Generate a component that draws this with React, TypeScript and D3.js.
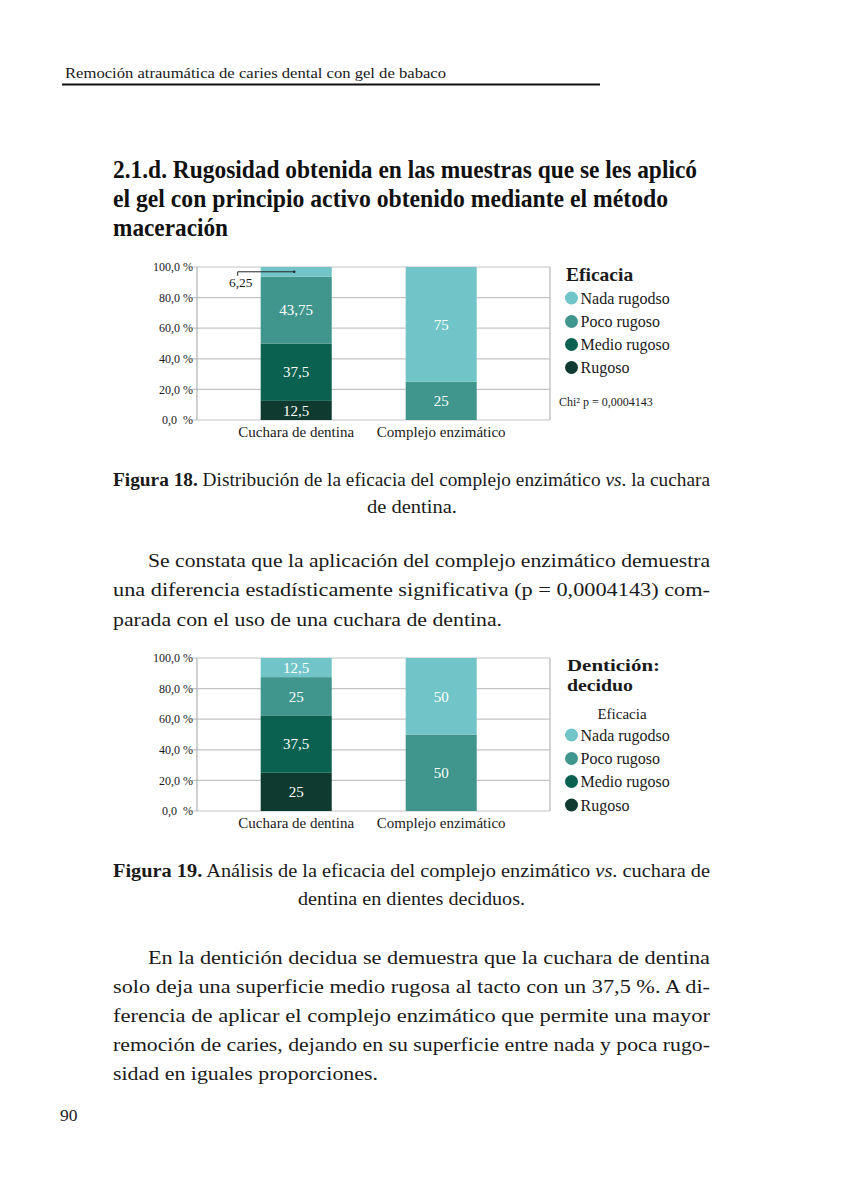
import React from "react";
import * as d3 from "d3";

const categories = ["Cuchara de dentina", "Complejo enzimático"];
const stackKeys = ["Rugoso", "Medio rugoso", "Poco rugoso", "Nada rugodso"];
const legendKeys = ["Nada rugodso", "Poco rugoso", "Medio rugoso", "Rugoso"];
const keyColors = ["#0e3a30", "#0b6150", "#40968c", "#71c5c8"];

const fig18Rugoso = [12.5, 0];
const fig18Medio = [37.5, 0];
const fig18Poco = [43.75, 25];
const fig18Nada = [6.25, 75];

const fig19Rugoso = [25, 0];
const fig19Medio = [37.5, 0];
const fig19Poco = [25, 50];
const fig19Nada = [12.5, 50];

const yTicks = [0, 20, 40, 60, 80, 100];
const yTickLabels = ["0,0  %", "20,0 %", "40,0 %", "60,0 %", "80,0 %", "100,0 %"];

const SERIF = "'Liberation Serif', 'DejaVu Serif', serif";
const TEXT = "#1a1a1a";

function buildRows(r: number[], m: number[], p: number[], n: number[]) {
  return categories.map((c, i) => ({
    cat: c,
    Rugoso: r[i],
    "Medio rugoso": m[i],
    "Poco rugoso": p[i],
    "Nada rugodso": n[i],
  }));
}

const fmt = (v: number) => String(v).replace(".", ",");

function StackedChart({ top, rows, small }: { top: number; rows: any[]; small: number }) {
  const left = 197;
  const right = 550;
  const bottom = top + 153;
  const x = d3
    .scaleBand<string>()
    .domain(categories)
    .range([left, right])
    .paddingInner(0.51)
    .paddingOuter(0.4724)
    .align(0.465);
  const y = d3.scaleLinear().domain([0, 100]).range([bottom, top]);
  const series = d3.stack<any>().keys(stackKeys)(rows);
  const color = d3.scaleOrdinal<string, string>().domain(stackKeys).range(keyColors);

  return (
    <g fontFamily={SERIF}>
      {yTicks.map((t, i) => (
        <g key={t}>
          <line x1={left - 5} x2={right} y1={y(t)} y2={y(t)} stroke="#c4c4c4" strokeWidth={1.2} />
          <text
            x={left - 4}
            y={y(t)}
            dy="0.35em"
            textAnchor="end"
            fontSize={12}
            fill={TEXT}
            style={{ whiteSpace: "pre" }}
          >
            {yTickLabels[i]}
          </text>
        </g>
      ))}
      <line x1={left} x2={left} y1={top} y2={bottom} stroke="#b0b0b0" strokeWidth={1.2} />
      <line x1={right} x2={right} y1={top} y2={bottom} stroke="#c4c4c4" strokeWidth={1.5} />
      {series.map((s) =>
        s.map((d: any) => {
          const v = d[1] - d[0];
          if (v <= 0) return null;
          const bx = x(d.data.cat)!;
          const bw = x.bandwidth();
          const cy = (y(d[0]) + y(d[1])) / 2;
          return (
            <g key={s.key + d.data.cat}>
              <rect x={bx} y={y(d[1])} width={bw} height={y(d[0]) - y(d[1])} fill={color(s.key)} />
              {v >= small ? (
                <text
                  x={bx + bw / 2}
                  y={cy}
                  dy="0.35em"
                  textAnchor="middle"
                  fontSize={15}
                  fill="#ffffff"
                >
                  {fmt(v)}
                </text>
              ) : (
                <g>
                  <path
                    d={`M${bx - 23},${cy + 4}V${cy}H${bx + bw / 2 - 2}`}
                    fill="none"
                    stroke="#222"
                    strokeWidth={1}
                  />
                  <circle cx={bx + bw / 2 - 2} cy={cy} r={1.2} fill="#222" />
                  <text x={bx - 20} y={cy + 15} textAnchor="middle" fontSize={13.5} fill={TEXT}>
                    {fmt(v)}
                  </text>
                </g>
              )}
            </g>
          );
        })
      )}
      {categories.map((c) => (
        <text
          key={c}
          x={x(c)! + x.bandwidth() / 2}
          y={bottom + 16.5}
          textAnchor="middle"
          fontSize={15}
          fill={TEXT}
        >
          {c}
        </text>
      ))}
    </g>
  );
}

function Legend({ rowY }: { rowY: number[] }) {
  const color = d3.scaleOrdinal<string, string>().domain(stackKeys).range(keyColors);
  return (
    <g fontFamily={SERIF}>
      {legendKeys.map((k, i) => (
        <g key={k}>
          <circle cx={571.5} cy={rowY[i]} r={6.5} fill={color(k)} />
          <text x={580.5} y={rowY[i]} dy="0.35em" fontSize={16} fill={TEXT}>
            {k}
          </text>
        </g>
      ))}
    </g>
  );
}

type Line = { x: number; y: number; w?: number; parts: any };

function Para({ lines, size, anchor }: { lines: Line[]; size: number; anchor?: string }) {
  return (
    <g fontFamily={SERIF} fontSize={size} fill={TEXT}>
      {lines.map((l, i) => (
        <text
          key={i}
          x={l.x}
          y={l.y}
          textAnchor={anchor || "start"}
          {...(l.w ? { textLength: l.w, lengthAdjust: "spacingAndGlyphs" } : {})}
        >
          {l.parts}
        </text>
      ))}
    </g>
  );
}

export default function App() {
  const rows18 = buildRows(fig18Rugoso, fig18Medio, fig18Poco, fig18Nada);
  const rows19 = buildRows(fig19Rugoso, fig19Medio, fig19Poco, fig19Nada);
  return (
    <svg
      width={850}
      height={1191}
      style={{ position: "absolute", left: 0, top: 0, background: "#fff" }}
    >
      <rect width={850} height={1191} fill="#fff" />
      {/* running header */}
      <text x={65} y={78} fontFamily={SERIF} fontSize={14.5} fill={TEXT} textLength={381} lengthAdjust="spacingAndGlyphs">
        Remoción atraumática de caries dental con gel de babaco
      </text>
      <line x1={62} x2={600} y1={84.5} y2={84.5} stroke="#111" strokeWidth={2} />

      {/* heading */}
      <g fontFamily={SERIF} fontWeight="bold" fontSize={24.5} fill="#111">
        <text x={113} y={178} textLength={584} lengthAdjust="spacingAndGlyphs">
          2.1.d. Rugosidad obtenida en las muestras que se les aplicó
        </text>
        <text x={113} y={207} textLength={555} lengthAdjust="spacingAndGlyphs">
          el gel con principio activo obtenido mediante el método
        </text>
        <text x={113} y={236} textLength={115} lengthAdjust="spacingAndGlyphs">
          maceración
        </text>
      </g>

      {/* Figure 18 */}
      <StackedChart top={267} rows={rows18} small={10} />
      <text x={566} y={281} fontFamily={SERIF} fontWeight="bold" fontSize={19.5} fill={TEXT}>
        Eficacia
      </text>
      <Legend rowY={[298, 321.5, 344.5, 367.5]} />
      <text x={559} y={402} dy="0.35em" fontFamily={SERIF} fontSize={12} fill={TEXT}>
        Chi² p = 0,0004143
      </text>

      <Para
        size={18.5}
        lines={[
          {
            x: 113,
            y: 486,
            w: 597,
            parts: (
              <>
                <tspan fontWeight="bold">Figura 18.</tspan> Distribución de la eficacia del complejo enzimático{" "}
                <tspan fontStyle="italic">vs</tspan>. la cuchara
              </>
            ),
          },
        ]}
      />
      <Para size={18.5} anchor="middle" lines={[{ x: 412, y: 513, w: 90, parts: "de dentina." }]} />

      <Para
        size={19.5}
        lines={[
          { x: 148, y: 567, w: 562, parts: "Se constata que la aplicación del complejo enzimático demuestra" },
          { x: 113, y: 596, w: 597, parts: "una diferencia estadísticamente significativa (p = 0,0004143) com-" },
          { x: 113, y: 626, w: 389, parts: "parada con el uso de una cuchara de dentina." },
        ]}
      />

      {/* Figure 19 */}
      <StackedChart top={658} rows={rows19} small={10} />
      <g fontFamily={SERIF} fontWeight="bold" fontSize={17.5} fill={TEXT}>
        <text x={567} y={671} textLength={93} lengthAdjust="spacingAndGlyphs">Dentición:</text>
        <text x={567} y={691} textLength={66} lengthAdjust="spacingAndGlyphs">deciduo</text>
      </g>
      <text x={622} y={719} textAnchor="middle" fontFamily={SERIF} fontSize={15} fill={TEXT}>
        Eficacia
      </text>
      <Legend rowY={[735, 758.5, 781.5, 805]} />

      <Para
        size={18.5}
        lines={[
          {
            x: 113,
            y: 877,
            w: 597,
            parts: (
              <>
                <tspan fontWeight="bold">Figura 19.</tspan> Análisis de la eficacia del complejo enzimático{" "}
                <tspan fontStyle="italic">vs</tspan>. cuchara de
              </>
            ),
          },
        ]}
      />
      <Para size={18.5} anchor="middle" lines={[{ x: 411.5, y: 905, w: 227, parts: "dentina en dientes deciduos." }]} />

      <Para
        size={19.5}
        lines={[
          { x: 148, y: 964, w: 562, parts: "En la dentición decidua se demuestra que la cuchara de dentina" },
          { x: 113, y: 993, w: 597, parts: "solo deja una superficie medio rugosa al tacto con un 37,5 %. A di-" },
          { x: 113, y: 1022, w: 597, parts: "ferencia de aplicar el complejo enzimático que permite una mayor" },
          { x: 113, y: 1051, w: 597, parts: "remoción de caries, dejando en su superficie entre nada y poca rugo-" },
          { x: 113, y: 1080, w: 265, parts: "sidad en iguales proporciones." },
        ]}
      />

      <text x={60} y={1121} fontFamily={SERIF} fontSize={17.5} fill={TEXT}>
        90
      </text>
    </svg>
  );
}
